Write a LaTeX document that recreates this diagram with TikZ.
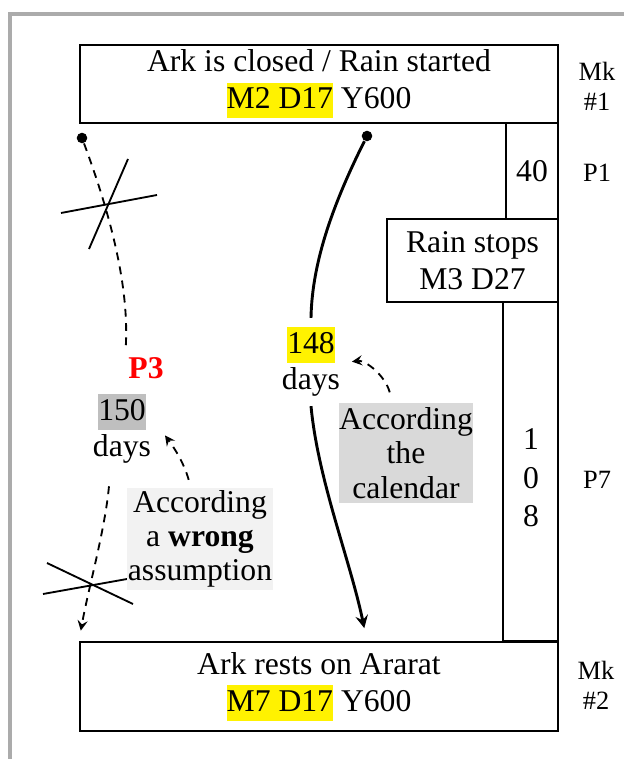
\documentclass[tikz,border=0pt]{standalone}
\usepackage{fontspec}
\setmainfont{Liberation Serif}
\definecolor{framegray}{HTML}{ABABAB}
\definecolor{hlgray}{HTML}{BFBFBF}
\definecolor{calgray}{HTML}{D9D9D9}
\definecolor{wronggray}{HTML}{F2F2F2}
\newcommand{\hlmark}[2]{{\setlength{\fboxsep}{0pt}\colorbox{#1}{\rule[-3.6pt]{0pt}{13.4pt}#2}}}

\begin{document}
\begin{tikzpicture}[x=0.379pt, y=-0.379pt, >=stealth,
    every node/.style={font=\fontsize{12}{14}\selectfont},
    markbox/.style={draw, line width=0.75pt, align=center, inner sep=0pt},
    side/.style={font=\fontsize{10}{11.4}\selectfont, align=center},
    note/.style={align=center, inner sep=0pt, font=\fontsize{12}{13}\selectfont},
    enddot/.style={circle, fill, inner sep=0pt, minimum size=4pt},
    route/.style={line width=1.1pt},
    guess/.style={line width=0.7pt, dash pattern=on 3pt off 2.4pt},
    cross/.style={line width=0.7pt}]
            \useasboundingbox (0,0) rectangle (624,759);

            % Frame
            \draw[framegray, line width=1.5pt] (10,759) |- (624,14);

            % Marks and periods
            \node[markbox, minimum width=181.2pt, minimum height=29.6pt] (closed) at (319,84) {Ark is closed / Rain started\\\hlmark{yellow}{M2 D17} Y600};
            \node[markbox, minimum width=19.7pt, minimum height=36.4pt] (p1box) at (532,171) {40};
            \node[markbox, minimum width=64.8pt, minimum height=31.5pt] (stops) at (472.5,260.5) {Rain stops\\M3 D27};
            \node[markbox, minimum width=20.8pt, minimum height=128.5pt] (p7box) at (530.5,471.5) {};
            \node[align=center, font=\fontsize{12}{14.6}\selectfont] (p7num) at (531,478) {1\\0\\8};
            \node[markbox, minimum width=181.2pt, minimum height=33.7pt] (rests) at (319,686.5) {Ark rests on Ararat\\\hlmark{yellow}{M7 D17} Y600};

            % Side labels
            \node[side] (mk1) at (597,86) {Mk\\\#1};
            \node[side] (p1) at (597,173) {P1};
            \node[side] (p7) at (597,480) {P7};
            \node[side] (mk2) at (596,685) {Mk\\\#2};

            % Start points
            \node[enddot] (s1) at (82,138) {};
            \node[enddot] (s2) at (367,136) {};

            % Crossed out
            \coordinate (x1) at (107,205);
            \coordinate (x2) at (93,584);
            \draw[cross] (x1) ++(-46,8) -- ++(96,-18);
            \draw[cross] (x1) ++(21,-46) -- ++(-39,90);
            \draw[cross] (x2) ++(-50,10) -- ++(84,-15);
            \draw[cross] (x2) ++(-46,-21) -- ++(86,41);

            % Day counts
            \node[red, font=\fontsize{12}{14}\selectfont\bfseries] (p3) at (146,368) {P3};
            \node[align=center] (c150) at (122,429) {\hlmark{hlgray}{150}\\days};
            \node[align=center] (c148) at (311,362) {\hlmark{yellow}{148}\\days};

            % Reasons
            \node[note, fill=wronggray, minimum width=55.3pt, minimum height=38.7pt] (wrong) at (200,539) {According\\a \textbf{wrong}\\assumption};
            \node[note, fill=calgray, minimum width=50.8pt, minimum height=37.9pt] (calendar) at (406,453) {According\\the\\calendar};

            % Calendar route
            \draw[route] (s2) .. controls (335,200) and (312,260) .. (c148.north);
            \draw[route,->, shorten >=5pt] (c148.south) .. controls (318,480) and (350,560) .. (rests.north -| s2);
            \draw[guess,->, shorten <=4pt, shorten >=1pt] (calendar.105) .. controls (385,375) and (365,360) .. (c148.east);

            % Wrong route
            \draw[guess] (s1) .. controls (105,200) and (130,280) .. ([xshift=2.5pt]p3.north west);
            \draw[guess,->, shorten <=5pt, shorten >=4pt] (c150.255) .. controls (105,530) and (88,590) .. (rests.north west);
            \draw[guess,->, shorten <=3pt, shorten >=3pt] (wrong.100) .. controls (183,460) and (172,445) .. (c150.east);

        \end{tikzpicture}
\end{document}
